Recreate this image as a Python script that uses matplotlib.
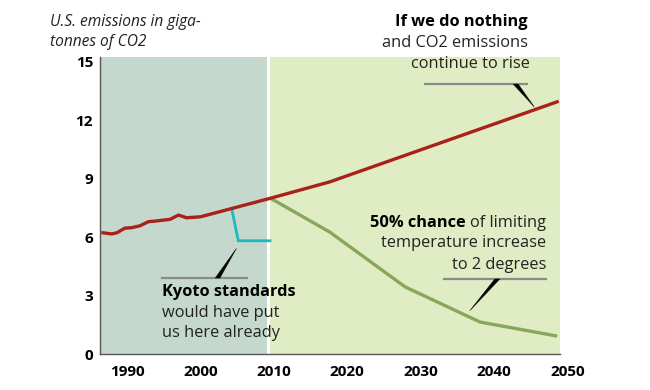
import matplotlib.pyplot as plt
from matplotlib.patches import Polygon

# Data
hist_years = [1986.7, 1987.9, 1988.6, 1989.7, 1990.6, 1991.75, 1992.9, 1993.8,
              1995.85, 1997.0, 1998.1, 2000.0, 2009.5, 2017.6, 2048.6]
hist_values = [6.22, 6.16, 6.22, 6.46, 6.48, 6.58, 6.79, 6.82,
               6.91, 7.13, 6.99, 7.04, 7.99, 8.83, 12.94]

kyoto_years = [2004.25, 2005.15, 2009.47]
kyoto_values = [7.45, 5.81, 5.81]

limit_years = [2009.5, 2017.6, 2027.9, 2038.1, 2048.6]
limit_values = [8.0, 6.26, 3.44, 1.64, 0.92]

x_ticks = [1990, 2000, 2010, 2020, 2030, 2040, 2050]
y_ticks = [0, 3, 6, 9, 12, 15]

# Colours
PAST_BG = '#c5d8cd'
FUTURE_BG = '#e0ecc3'
RED = '#a8221a'
GREEN = '#87a75a'
CYAN = '#1db9c3'
GRAY = '#8a8c8a'
TEXT = '#222222'

FONT = 'Open Sans'
plt.rcParams['font.family'] = [FONT, 'DejaVu Sans']

X0, X1 = 1986.3, 2050.0
X_END = 2049.0
Y0, Y1 = 0.0, 15.24

fig = plt.figure(figsize=(6.5, 3.9), dpi=100)
ax = fig.add_axes([100 / 650, 36 / 390, (567.4 - 100) / 650, 297 / 390])
ax.set_xlim(X0, X1)
ax.set_ylim(Y0, Y1)

# Background periods, with a thin white gap at the present day
ax.axvspan(X0, 2009.06, color=PAST_BG, lw=0, zorder=0)
ax.axvspan(2009.47, X_END, color=FUTURE_BG, lw=0, zorder=0)

# Series
ax.plot(limit_years, limit_values, color=GREEN, lw=2.4, solid_capstyle='butt', zorder=3)
ax.plot(kyoto_years, kyoto_values, color=CYAN, lw=2.0, solid_joinstyle='miter', zorder=3)
ax.plot(hist_years, hist_values, color=RED, lw=2.4, zorder=4)

# Axes styling
for side in ['top', 'right']:
    ax.spines[side].set_visible(False)
ax.spines['left'].set_color('#555555')
ax.spines['bottom'].set_color('#555555')
ax.spines['left'].set_linewidth(1.0)
ax.spines['bottom'].set_linewidth(1.0)
ax.spines['bottom'].set_bounds(X0, X_END)

ax.set_xticks(x_ticks)
ax.set_yticks(y_ticks)
ax.tick_params(length=0, labelsize=11, colors='black')
ax.tick_params(axis='x', pad=8)
ax.tick_params(axis='y', pad=5)
for lbl in ax.get_xticklabels() + ax.get_yticklabels():
    lbl.set_fontweight('bold')

# Axis title (top-left, italic)
fig.text(50 / 650, 1 - 22 / 390, 'U.S. emissions in giga-', fontsize=11.2,
         style='italic', color=TEXT, va='center', ha='left')
fig.text(50 / 650, 1 - 42 / 390, 'tonnes of CO2', fontsize=11.2,
         style='italic', color=TEXT, va='center', ha='left')


def callout(x0, x1, y, base, tip):
    # gray rule under the text and a thin black wedge pointing to the line
    ax.plot([x0, x1], [y, y], color=GRAY, lw=1.6, clip_on=False, zorder=5)
    wedge = Polygon([(base[0], y), (base[1], y), tip], closed=True,
                    facecolor='black', edgecolor='black', lw=0.3, zorder=5)
    ax.add_patch(wedge)


fs = 11.8

# "If we do nothing" note
ax.text(2044.6, 17.03, 'If we do nothing', fontsize=fs, fontweight='bold',
        color='black', ha='right', va='center', clip_on=False)
ax.text(2044.6, 15.96, 'and CO2 emissions', fontsize=fs, color=TEXT,
        ha='right', va='center', clip_on=False)
ax.text(2044.9, 14.88, 'continue to rise', fontsize=fs, color=TEXT,
        ha='right', va='center')
callout(2030.6, 2044.5, 13.85, (2042.6, 2043.3), (2045.5, 12.67))

# 50% chance note
t1 = ax.text(2047.1, 6.72, 'of limiting', fontsize=fs, color=TEXT,
             ha='right', va='center')
fig.canvas.draw()
bb = t1.get_window_extent().transformed(ax.transData.inverted())
ax.text(bb.x0, 6.72, '50% chance ', fontsize=fs, fontweight='bold',
        color='black', ha='right', va='center')
ax.text(2047.1, 5.70, 'temperature increase', fontsize=fs, color=TEXT,
        ha='right', va='center')
ax.text(2047.1, 4.57, 'to 2 degrees', fontsize=fs, color=TEXT,
        ha='right', va='center')
callout(2033.2, 2047.1, 3.85, (2040.1, 2040.8), (2036.7, 2.22))

# Kyoto note
ax.text(1994.7, 3.18, 'Kyoto standards', fontsize=fs, fontweight='bold',
        color='black', ha='left', va='center')
ax.text(1994.7, 2.10, 'would have put', fontsize=fs, color=TEXT,
        ha='left', va='center')
ax.text(1994.7, 1.08, 'us here already', fontsize=fs, color=TEXT,
        ha='left', va='center')
callout(1994.75, 2006.3, 3.90, (2002.0, 2002.65), (2004.9, 5.42))

fig.savefig('out.png', dpi=100)
